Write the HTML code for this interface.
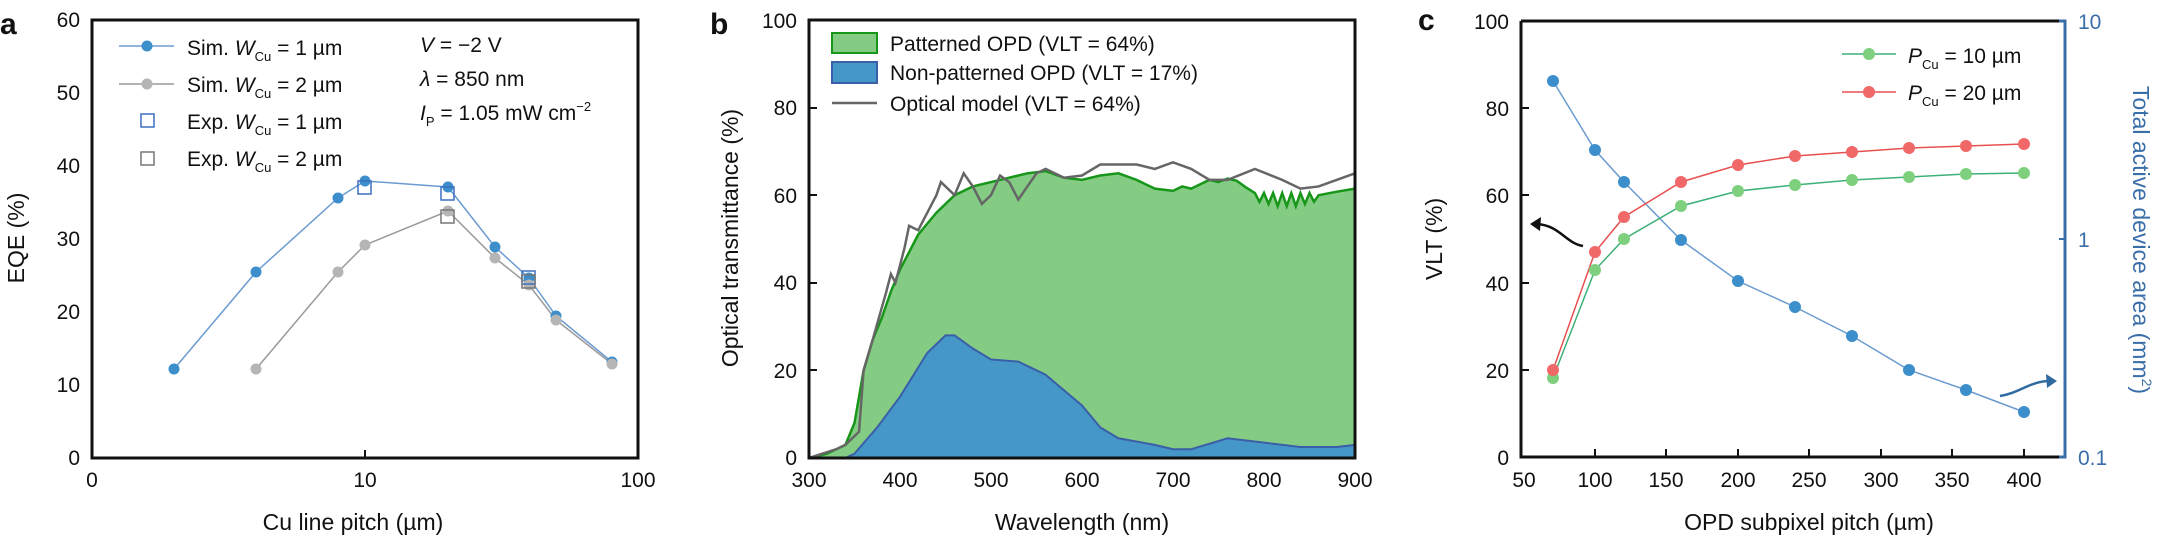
<!DOCTYPE html>
<html><head><meta charset="utf-8"><style>
html,body{margin:0;padding:0;background:#fff}
svg{display:block}
text{font-family:"Liberation Sans",sans-serif;fill:#111}
.t{font-size:21px}
.n{vector-effect:non-scaling-stroke}
</style></head><body>
<svg width="2158" height="539" viewBox="0 0 2158 539" xmlns="http://www.w3.org/2000/svg">
<!-- Panel a -->
<text x="0" y="34" style="font-size:30px;font-weight:bold">a</text>
<rect x="92" y="20" width="546" height="438" fill="none" stroke="#111" stroke-width="3"/>
<g class="t" text-anchor="end">
<text x="80" y="465">0</text><text x="80" y="392">10</text><text x="80" y="319">20</text><text x="80" y="246">30</text><text x="80" y="173">40</text><text x="80" y="100">50</text><text x="80" y="27">60</text>
</g>
<line x1="365" y1="458" x2="365" y2="450" stroke="#111" stroke-width="2"/>
<g class="t" text-anchor="middle"><text x="92" y="487">0</text><text x="365" y="487">10</text><text x="638" y="487">100</text></g>
<text x="353" y="530" text-anchor="middle" style="font-size:23px">Cu line pitch (µm)</text>
<text transform="translate(24,238) rotate(-90)" text-anchor="middle" style="font-size:23px">EQE (%)</text>
<polyline points="174,369 256,272 338,198 365,181 448,187 495,247 529,278 556,316 612,362" fill="none" stroke="#6b9bd0" stroke-width="1.5"/>
<polyline points="256,369 338,272 365,245 448,211 495,258 529,285 556,320 612,364" fill="none" stroke="#9a9a9a" stroke-width="1.5"/>
<g fill="#3d8fcc"><circle cx="174" cy="369" r="5.5"/><circle cx="256" cy="272" r="5.5"/><circle cx="338" cy="198" r="5.5"/><circle cx="365" cy="181" r="5.5"/><circle cx="448" cy="187" r="5.5"/><circle cx="495" cy="247" r="5.5"/><circle cx="529" cy="278" r="5.5"/><circle cx="556" cy="316" r="5.5"/><circle cx="612" cy="362" r="5.5"/></g>
<g fill="#b5b5b5"><circle cx="256" cy="369" r="5.5"/><circle cx="338" cy="272" r="5.5"/><circle cx="365" cy="245" r="5.5"/><circle cx="448" cy="211" r="5.5"/><circle cx="495" cy="258" r="5.5"/><circle cx="529" cy="285" r="5.5"/><circle cx="556" cy="320" r="5.5"/><circle cx="612" cy="364" r="5.5"/></g>
<g fill="none" stroke-width="1.5"><rect x="358" y="181" width="13" height="13" stroke="#3d6fc0"/><rect x="441" y="187" width="13" height="13" stroke="#3d6fc0"/><rect x="522" y="271" width="13" height="13" stroke="#3d6fc0"/><rect x="441" y="210" width="13" height="13" stroke="#777"/><rect x="522" y="275" width="13" height="13" stroke="#777"/></g>
<line x1="119" y1="46" x2="174" y2="46" stroke="#6b9bd0" stroke-width="1.5"/><circle cx="147" cy="46" r="5.5" fill="#3d8fcc"/>
<line x1="119" y1="84" x2="174" y2="84" stroke="#9a9a9a" stroke-width="1.5"/><circle cx="147" cy="84" r="5.5" fill="#b5b5b5"/>
<rect x="141" y="114" width="13" height="13" fill="none" stroke="#3d6fc0" stroke-width="1.5"/>
<rect x="141" y="152" width="13" height="13" fill="none" stroke="#777" stroke-width="1.5"/>
<g class="t">
<text x="187" y="55">Sim. <tspan font-style="italic">W</tspan><tspan font-size="13" dy="6">Cu</tspan><tspan dy="-6"> = 1 µm</tspan></text>
<text x="187" y="92">Sim. <tspan font-style="italic">W</tspan><tspan font-size="13" dy="6">Cu</tspan><tspan dy="-6"> = 2 µm</tspan></text>
<text x="187" y="129">Exp. <tspan font-style="italic">W</tspan><tspan font-size="13" dy="6">Cu</tspan><tspan dy="-6"> = 1 µm</tspan></text>
<text x="187" y="166">Exp. <tspan font-style="italic">W</tspan><tspan font-size="13" dy="6">Cu</tspan><tspan dy="-6"> = 2 µm</tspan></text>
<text x="420" y="52"><tspan font-style="italic">V</tspan> = −2 V</text>
<text x="420" y="86"><tspan font-style="italic">λ</tspan> = 850 nm</text>
<text x="420" y="120"><tspan font-style="italic">I</tspan><tspan font-size="13" dy="6">P</tspan><tspan dy="-6"> = 1.05 mW cm</tspan><tspan font-size="13" dy="-9">−2</tspan></text>
</g>
<!-- Panel b -->
<text x="710" y="34" style="font-size:30px;font-weight:bold">b</text>
<g transform="translate(809,458) scale(0.91,-4.38)">
<path class="n" d="M0,0 L20,1 40,3 50,8 60,20 70,27 80,32 90,38 100,43 120,51 140,56 160,60 180,62 200,63 220,64 240,65 260,65.5 280,64 300,63.5 320,64.5 340,65 360,63.5 380,61.5 400,61 410,62 420,61.5 430,62.5 440,63.5 450,63 460,63.8 470,63.3 480,61.8 490,60.5 495,58.5 500,60.5 505,58 510,60.5 515,57.5 520,60.5 525,57.5 530,60.5 535,57.5 540,60.5 545,58 550,60.5 555,58.5 560,60 580,60.8 600,61.5 L600,0 Z" fill="#84cc84" stroke="#17961a" stroke-width="2.5"/>
<path class="n" d="M0,0 L40,0 50,1 75,7 100,14 130,24 150,28 160,28 180,25 200,22.5 230,22 260,19 300,12 320,7 340,4.5 380,3 400,2 420,2 460,4.5 500,3.5 540,2.5 580,2.5 600,3 L600,0 Z" fill="#4597c8" stroke="#3a5ea8" stroke-width="2"/>
<polyline class="n" points="0,0 30,2 40,3 50,5 55,6 60,20 70,27 85,38 90,42 95,40 100,44 105,48 110,53 120,52 130,56 140,60 145,63 150,62 160,60 170,65 180,62 190,58 200,60 210,64.5 220,63 230,59 240,62 250,65 260,66 280,64 300,64.5 320,67 340,67 360,67 380,66 400,67.5 420,66 440,63.5 460,63.5 490,66 520,63.5 540,61.5 560,62 600,65" fill="none" stroke="#666" stroke-width="2.5"/>
</g>
<rect x="809" y="20" width="546" height="438" fill="none" stroke="#111" stroke-width="3"/>
<g stroke="#111" stroke-width="2"><line x1="809" y1="370" x2="817" y2="370"/><line x1="809" y1="283" x2="817" y2="283"/><line x1="809" y1="195" x2="817" y2="195"/><line x1="809" y1="108" x2="817" y2="108"/></g>
<g class="t" text-anchor="end">
<text x="797" y="465">0</text><text x="797" y="378">20</text><text x="797" y="290">40</text><text x="797" y="203">60</text><text x="797" y="115">80</text><text x="797" y="28">100</text>
</g>
<g class="t" text-anchor="middle"><text x="809" y="487">300</text><text x="900" y="487">400</text><text x="991" y="487">500</text><text x="1082" y="487">600</text><text x="1173" y="487">700</text><text x="1264" y="487">800</text><text x="1355" y="487">900</text></g>
<text x="1082" y="530" text-anchor="middle" style="font-size:23px">Wavelength (nm)</text>
<text transform="translate(738,238) rotate(-90)" text-anchor="middle" style="font-size:23px">Optical transmittance (%)</text>
<rect x="832" y="33" width="45" height="20" fill="#84cc84" stroke="#17961a" stroke-width="2"/>
<rect x="832" y="62" width="45" height="21" fill="#4597c8" stroke="#3a5ea8" stroke-width="2"/>
<line x1="832" y1="103" x2="877" y2="103" stroke="#666" stroke-width="2.5"/>
<g class="t"><text x="890" y="51">Patterned OPD (VLT = 64%)</text><text x="890" y="80">Non-patterned OPD (VLT = 17%)</text><text x="890" y="111">Optical model (VLT = 64%)</text></g>
<!-- Panel c -->
<text x="1418" y="30" style="font-size:30px;font-weight:bold">c</text>
<polyline points="1521,21 1521,457 2065,457" fill="none" stroke="#111" stroke-width="3"/>
<line x1="1521" y1="21" x2="2065" y2="21" stroke="#111" stroke-width="3"/>
<polyline points="2059,21 2065,21 2065,457 2059,457" fill="none" stroke="#3a6ea8" stroke-width="3"/>
<line x1="2059" y1="239" x2="2065" y2="239" stroke="#3a6ea8" stroke-width="2"/>
<g stroke="#111" stroke-width="2"><line x1="1595" y1="457" x2="1595" y2="449"/><line x1="1666" y1="457" x2="1666" y2="449"/><line x1="1738" y1="457" x2="1738" y2="449"/><line x1="1809" y1="457" x2="1809" y2="449"/><line x1="1881" y1="457" x2="1881" y2="449"/><line x1="1952" y1="457" x2="1952" y2="449"/><line x1="2024" y1="457" x2="2024" y2="449"/>
<line x1="1521" y1="370" x2="1529" y2="370"/><line x1="1521" y1="283" x2="1529" y2="283"/><line x1="1521" y1="195" x2="1529" y2="195"/><line x1="1521" y1="108" x2="1529" y2="108"/></g>
<g class="t" text-anchor="end">
<text x="1509" y="465">0</text><text x="1509" y="378">20</text><text x="1509" y="291">40</text><text x="1509" y="203">60</text><text x="1509" y="116">80</text><text x="1509" y="29">100</text>
</g>
<g class="t" fill="#3a6ea8"><text x="2078" y="465" style="fill:#3a6ea8">0.1</text><text x="2078" y="247" style="fill:#3a6ea8">1</text><text x="2078" y="29" style="fill:#3a6ea8">10</text></g>
<g class="t" text-anchor="middle"><text x="1524" y="487">50</text><text x="1595" y="487">100</text><text x="1666" y="487">150</text><text x="1738" y="487">200</text><text x="1809" y="487">250</text><text x="1881" y="487">300</text><text x="1952" y="487">350</text><text x="2024" y="487">400</text></g>
<text x="1809" y="530" text-anchor="middle" style="font-size:23px">OPD subpixel pitch (µm)</text>
<text transform="translate(1442,239) rotate(-90)" text-anchor="middle" style="font-size:23px">VLT (%)</text>
<text transform="translate(2133,240) rotate(90)" text-anchor="middle" style="font-size:23px;fill:#3a6ea8">Total active device area (mm<tspan font-size="14" dy="-9">2</tspan><tspan dy="9">)</tspan></text>
<polyline points="1553,81 1595,150 1624,182 1681,240 1738,281 1795,307 1852,336 1909,370 1966,390 2024,412" fill="none" stroke="#6b9bd0" stroke-width="1.5"/>
<polyline points="1553,378 1595,270 1624,239 1681,206 1738,191 1795,185 1852,180 1909,177 1966,174 2024,173" fill="none" stroke="#3db077" stroke-width="1.5"/>
<polyline points="1553,370 1595,252 1624,217 1681,182 1738,165 1795,156 1852,152 1909,148 1966,146 2024,144" fill="none" stroke="#e85050" stroke-width="1.5"/>
<g fill="#3d8fcc"><circle cx="1553" cy="81" r="6"/><circle cx="1595" cy="150" r="6"/><circle cx="1624" cy="182" r="6"/><circle cx="1681" cy="240" r="6"/><circle cx="1738" cy="281" r="6"/><circle cx="1795" cy="307" r="6"/><circle cx="1852" cy="336" r="6"/><circle cx="1909" cy="370" r="6"/><circle cx="1966" cy="390" r="6"/><circle cx="2024" cy="412" r="6"/></g>
<g fill="#7ed07e"><circle cx="1553" cy="378" r="6"/><circle cx="1595" cy="270" r="6"/><circle cx="1624" cy="239" r="6"/><circle cx="1681" cy="206" r="6"/><circle cx="1738" cy="191" r="6"/><circle cx="1795" cy="185" r="6"/><circle cx="1852" cy="180" r="6"/><circle cx="1909" cy="177" r="6"/><circle cx="1966" cy="174" r="6"/><circle cx="2024" cy="173" r="6"/></g>
<g fill="#f06868"><circle cx="1553" cy="370" r="6"/><circle cx="1595" cy="252" r="6"/><circle cx="1624" cy="217" r="6"/><circle cx="1681" cy="182" r="6"/><circle cx="1738" cy="165" r="6"/><circle cx="1795" cy="156" r="6"/><circle cx="1852" cy="152" r="6"/><circle cx="1909" cy="148" r="6"/><circle cx="1966" cy="146" r="6"/><circle cx="2024" cy="144" r="6"/></g>
<line x1="1842" y1="54" x2="1896" y2="54" stroke="#3db077" stroke-width="1.5"/><circle cx="1869" cy="54" r="6" fill="#7ed07e"/>
<line x1="1842" y1="92" x2="1896" y2="92" stroke="#e85050" stroke-width="1.5"/><circle cx="1869" cy="92" r="6" fill="#f06868"/>
<g class="t"><text x="1908" y="63"><tspan font-style="italic">P</tspan><tspan font-size="13" dy="6">Cu</tspan><tspan dy="-6"> = 10 µm</tspan></text>
<text x="1908" y="100"><tspan font-style="italic">P</tspan><tspan font-size="13" dy="6">Cu</tspan><tspan dy="-6"> = 20 µm</tspan></text></g>
<path d="M1583,246 C1565,243 1560,225 1536,224" fill="none" stroke="#111" stroke-width="2.5"/>
<path d="M1530,224 L1541,217 L1540,231 Z" fill="#111"/>
<path d="M2000,396 C2020,393 2030,381 2050,381" fill="none" stroke="#2f6aa0" stroke-width="2.5"/>
<path d="M2057,381 L2046,374 L2047,388 Z" fill="#2f6aa0"/>
</svg>
</body></html>
